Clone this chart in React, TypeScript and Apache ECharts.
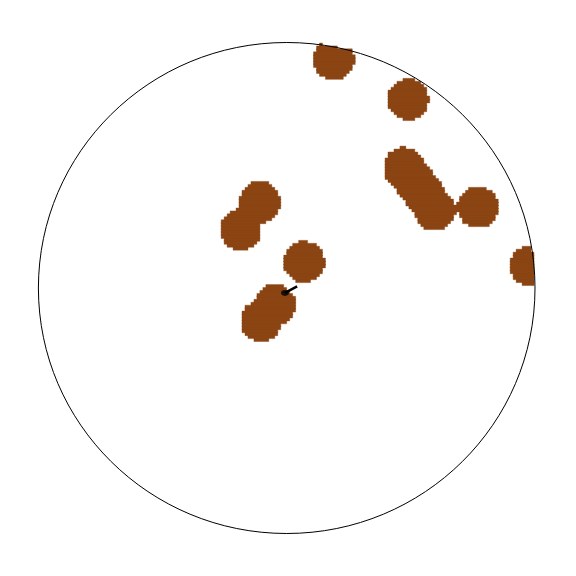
import React, { useEffect, useRef } from "react";
import * as echarts from "echarts";

// Pole positions on the net (unit circle coordinates)
const poleX = [0.19, 0.489, 0.984, 0.472, 0.513, 0.553, 0.597, 0.77, -0.108, -0.184, 0.07, -0.047, -0.104];
const poleY = [0.933, 0.768, 0.09, 0.489, 0.436, 0.379, 0.318, 0.328, 0.35, 0.238, 0.106, -0.069, -0.134];
const contourRadius = 0.082;
const cellSize = 0.012;
const arrowStart = [-0.007, -0.02];
const arrowEnd = [0.042, 0.007];
const fillColor = "#8B4513";

// Rasterised contour (runs of filled cells per row)
const runs: number[][] = [];
const nCells = Math.ceil(1 / cellSize);
for (let j = -nCells; j < nCells; j++) {
  let runStart: number | null = null;
  for (let i = -nCells; i <= nCells; i++) {
    const cx = (i + 0.5) * cellSize;
    const cy = (j + 0.5) * cellSize;
    let filled = false;
    if (i < nCells && cx * cx + cy * cy <= 1) {
      for (let k = 0; k < poleX.length; k++) {
        const dx = cx - poleX[k];
        const dy = cy - poleY[k];
        if (dx * dx + dy * dy <= contourRadius * contourRadius) {
          filled = true;
          break;
        }
      }
    }
    if (filled && runStart === null) runStart = i;
    if (!filled && runStart !== null) {
      runs.push([runStart * cellSize, i * cellSize, j * cellSize]);
      runStart = null;
    }
  }
}

export default function App() {
  const ref = useRef<HTMLDivElement>(null);
  useEffect(() => {
    if (!ref.current) return;
    const chart = echarts.init(ref.current, null, { renderer: "svg" });
    chart.setOption({
      animation: false,
      backgroundColor: "#fff",
      grid: { left: 38.4, top: 42.5, width: 496.6, height: 491 },
      xAxis: { type: "value", min: -1, max: 1, show: false },
      yAxis: { type: "value", min: -1, max: 1, show: false },
      series: [
        {
          type: "custom",
          coordinateSystem: "cartesian2d",
          data: runs,
          silent: true,
          renderItem: (params: any, api: any) => {
            const x0 = api.value(0);
            const x1 = api.value(1);
            const y0 = api.value(2);
            const p0 = api.coord([x0, y0]);
            const p1 = api.coord([x1, y0 + cellSize]);
            return {
              type: "rect",
              shape: {
                x: p0[0],
                y: p1[1] - 0.5,
                width: p1[0] - p0[0],
                height: p0[1] - p1[1] + 1,
              },
              style: { fill: fillColor, stroke: fillColor, lineWidth: 0.4 },
            };
          },
        },
        {
          type: "custom",
          coordinateSystem: "cartesian2d",
          data: [[0, 0]],
          silent: true,
          renderItem: (params: any, api: any) => {
            const c = api.coord([0, 0]);
            const s = api.size([1, 1]);
            return {
              type: "ellipse",
              shape: { cx: c[0], cy: c[1], rx: s[0], ry: s[1] },
              style: { fill: "none", stroke: "#000", lineWidth: 1 },
            };
          },
        },
        {
          type: "line",
          data: [arrowStart, arrowEnd],
          symbol: "none",
          lineStyle: { color: "#000", width: 2.5 },
          silent: true,
        },
        {
          type: "scatter",
          data: [arrowStart],
          symbol: "circle",
          symbolSize: [8, 6],
          itemStyle: { color: "#000" },
          silent: true,
        },
      ],
    });
    return () => chart.dispose();
  }, []);
  return (
    <div
      ref={ref}
      style={{ position: "absolute", left: 0, top: 0, width: 576, height: 576 }}
    />
  );
}
